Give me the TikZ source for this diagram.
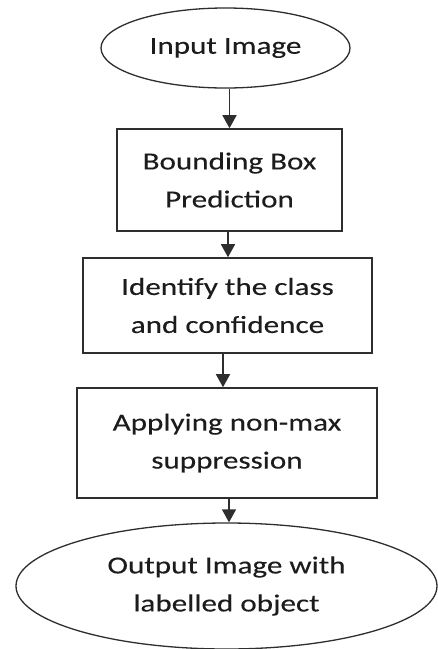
\documentclass[tikz,border=0pt]{standalone}
\usepackage{fontspec}
\setmainfont{Carlito}[FakeStretch=1.27,FakeBold=0.15]
\usetikzlibrary{shapes.geometric,arrows.meta}
\definecolor{linec}{HTML}{2E2E2E}
\definecolor{textc}{HTML}{1C1C1C}
\begin{document}
\begin{tikzpicture}[x=1pt,y=1pt,
  every node/.style={font=\fontsize{24.5}{38}\selectfont, text=textc, align=center, inner sep=0pt},
  stepbox/.style={draw=linec, line width=1.6pt, rectangle},
  oval/.style={draw=linec, line width=1.3pt, ellipse},
  arr/.style={draw=linec, line width=1.5pt, -{Triangle[width=14pt,length=13pt]}}]
\useasboundingbox (0,0) rectangle (438,-649);
\fill[white] (0,0) rectangle (438,-649);
\node[oval, minimum width=249pt, minimum height=80pt] (in) at (225.5,-48) {Input Image};
\node[stepbox, minimum width=225pt, minimum height=102pt] (b1) at (229.5,-180) {Bounding Box\\Prediction};
\node[stepbox, minimum width=289pt, minimum height=95pt] (b2) at (227.5,-305.5) {Identify the class\\and confidence};
\node[stepbox, minimum width=300pt, minimum height=110pt] (b3) at (227,-443) {Applying non-max\\suppression};
\node[oval, minimum width=421pt, minimum height=126pt] (out) at (226.5,-586) {Output Image with\\labelled object};
\draw[arr] (b1.north |- in.south) -- (b1.north);
\draw[arr] ([xshift=-1.5pt]b1.south) -- ([xshift=-1.5pt]b1.south |- b2.north);
\draw[arr] ([xshift=-4.5pt]b2.south) -- ([xshift=-4.5pt]b2.south |- b3.north);
\draw[arr] ([xshift=2pt]b3.south) -- ([xshift=2pt]b3.south |- out.north);
\end{tikzpicture}
\end{document}
